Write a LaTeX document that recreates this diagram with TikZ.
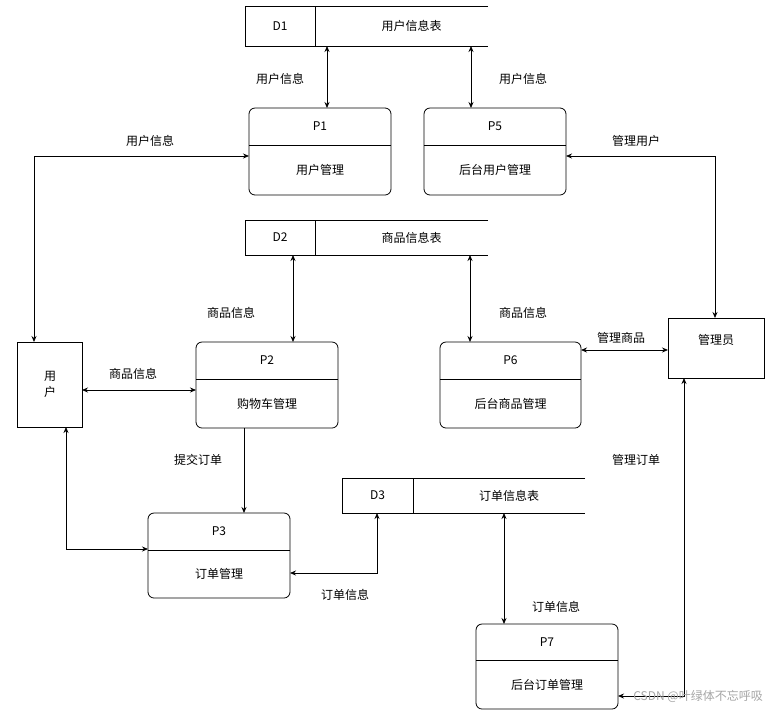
\documentclass[tikz,border=0pt]{standalone}
\usepackage{fontspec}
\setmainfont{Noto Sans CJK SC}
\usetikzlibrary{arrows.meta}
\begin{document}
\begin{tikzpicture}[x=1pt,y=-1pt,
  ln/.style={line width=0.8pt},
  ar/.style={ln,{Stealth[length=6pt,width=5pt]}-{Stealth[length=6pt,width=5pt]}},
  ar1/.style={ln,-{Stealth[length=6pt,width=5pt]}},
  tx/.style={font=\fontsize{12}{14}\selectfont,inner sep=1pt},
  proc/.style={ln,rounded corners=6pt}]
\useasboundingbox[fill=white] (0,0) rectangle (778,716);
% stores
\newcommand{\mystore}[7]{%
 \draw[ln] (#3,#2) -- (#1,#2) -- (#1,#4) -- (#3,#4);
 \draw[ln] (#5,#2) -- (#5,#4);
 \node[tx] (#6) at ({(#1+#5)/2},{(#2+#4)/2}) {#6};
 \node[tx] (#6t) at ({(#5+#3)/2+10},{(#2+#4)/2}) {#7};}
\mystore{245}{6}{488}{46}{315}{D1}{用户信息表}
\mystore{245}{220}{488}{255}{315}{D2}{商品信息表}
\mystore{342}{478}{585}{513}{413}{D3}{订单信息表}
% processes
\newcommand{\myproc}[7]{%
 \draw[proc] (#1,#4) rectangle (#3,#2);
 \draw[ln] (#1,#5) -- (#3,#5);
 \node[tx] (#6) at ({(#1+#3)/2},{(#2+#5)/2}) {#6};
 \node[tx] (#6t) at ({(#1+#3)/2},{(#5+#4)/2}) {#7};}
\myproc{249}{108}{391}{195}{145}{P1}{用户管理}
\myproc{424}{108}{566}{195}{145}{P5}{后台用户管理}
\myproc{196}{342}{338}{428}{379}{P2}{购物车管理}
\myproc{440}{342}{581}{428}{379}{P6}{后台商品管理}
\myproc{148}{513}{290}{598}{550}{P3}{订单管理}
\myproc{476}{624}{618}{709}{660}{P7}{后台订单管理}
% entities
\draw[ln] (17,342) rectangle (82,427);
\node[tx,align=center] (user) at (50,384) {用\\[2pt]户};
\draw[ln] (668,318) rectangle (764,378);
\node[tx] (adm) at (716,340) {管理员};
% connectors
\draw[ar] (327,46) -- (327,108);
\node[tx] at (280,79) {用户信息};
\draw[ar] (471,46) -- (471,108);
\node[tx] at (523,79) {用户信息};
\draw[ar] (34,342) -- (34,156) -- (249,156);
\node[tx] at (150,141) {用户信息};
\draw[ar] (566,156) -- (715,156) -- (715,318);
\node[tx] at (636,141) {管理用户};
\draw[ar] (293,255) -- (293,342);
\node[tx] at (231,313) {商品信息};
\draw[ar] (470,255) -- (470,342);
\node[tx] at (523,313) {商品信息};
\draw[ar] (581,350) -- (668,350);
\node[tx] at (621,338) {管理商品};
\draw[ar] (82,390) -- (196,390);
\node[tx] at (133,374) {商品信息};
\draw[ar1] (244,428) -- (244,513);
\node[tx] at (198,460) {提交订单};
\draw[ar] (66,427) -- (66,549) -- (148,549);
\draw[ar] (290,573) -- (377,573) -- (377,513);
\node[tx] at (345,595) {订单信息};
\draw[ar] (504,513) -- (504,624);
\node[tx] at (556,607) {订单信息};
\draw[ar] (618,696) -- (684,696) -- (684,378);
\node[tx] at (636,460) {管理订单};
\node[tx,text=gray!70,anchor=east] at (764,696) {CSDN @叶绿体不忘呼吸};
\end{tikzpicture}
\end{document}
